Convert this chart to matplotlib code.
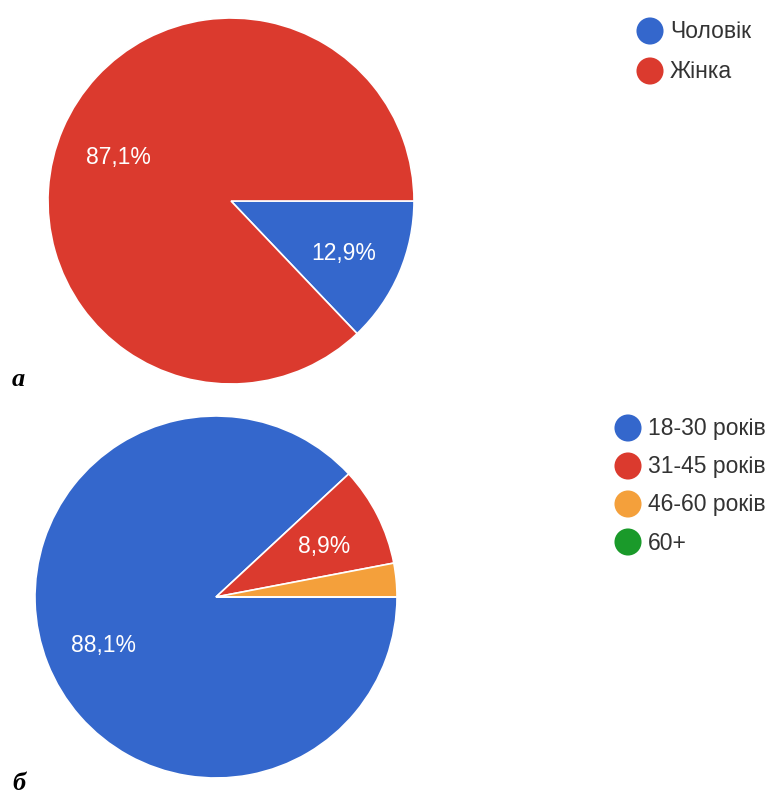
import matplotlib.pyplot as plt

plt.rcParams['font.family'] = ['Liberation Sans', 'DejaVu Sans']

# gender split
gender_labels = ['Чоловік', 'Жінка']
gender_values = [12.9, 87.1]

# age groups
age_labels = ['18-30 років', '31-45 років', '46-60 років', '60+']
age_values = [88.1, 8.9, 3.0, 0.0]

colors = ['#3467cc', '#db3a2e', '#f4a03b', '#1a9a2a']

W, H = 777, 795
fig = plt.figure(figsize=(W / 100, H / 100), dpi=100)


def pie_axes(cx, cy, r):
    # square axes centred on (cx, cy) in pixels from the top-left corner
    return fig.add_axes([(cx - r) / W, (H - cy - r) / H, 2 * r / W, 2 * r / H])


def pct(v):
    return (f'{v:.1f}%').replace('.', ',') if v >= 5 else ''


def draw_pie(ax, values, cols):
    wedges, texts, autotexts = ax.pie(
        values, colors=cols, startangle=0, counterclock=False,
        autopct=pct, pctdistance=0.67, radius=1.0,
        wedgeprops=dict(edgecolor='white', linewidth=1.2),
        textprops=dict(color='white', fontsize=16.5))
    for t in autotexts:
        x, y = t.get_position()
        t.set_position((x, y - 0.025))
    ax.set_xlim(-1, 1)
    ax.set_ylim(-1, 1)
    ax.set_aspect('equal')
    ax.axis('off')


ax1 = pie_axes(231, 201, 183)
draw_pie(ax1, gender_values, colors[:2])

ax2 = pie_axes(216, 597, 181)
draw_pie(ax2, age_values, colors)

# overlay in pixel coordinates for legends and panel letters
ov = fig.add_axes([0, 0, 1, 1])
ov.set_xlim(0, W)
ov.set_ylim(H, 0)
ov.axis('off')


def legend(labels, cols, x, y0, step):
    for i, (lab, c) in enumerate(zip(labels, cols)):
        y = y0 + i * step
        ov.scatter([x], [y], s=380, color=c, edgecolors='none')
        ov.text(x + 20, y + 1, lab, fontsize=16.5, color='#333333',
                va='center', ha='left')


legend(gender_labels, colors[:2], 650, 31, 40)
legend(age_labels, colors, 628, 428, 38)

ov.text(12, 386, 'a', fontsize=19, family='Liberation Serif',
        fontweight='bold', fontstyle='italic', va='baseline')
ov.text(12, 790, 'б', fontsize=19, family='Liberation Serif',
        fontweight='bold', fontstyle='italic', va='baseline')

fig.savefig('out.png', dpi=100)
